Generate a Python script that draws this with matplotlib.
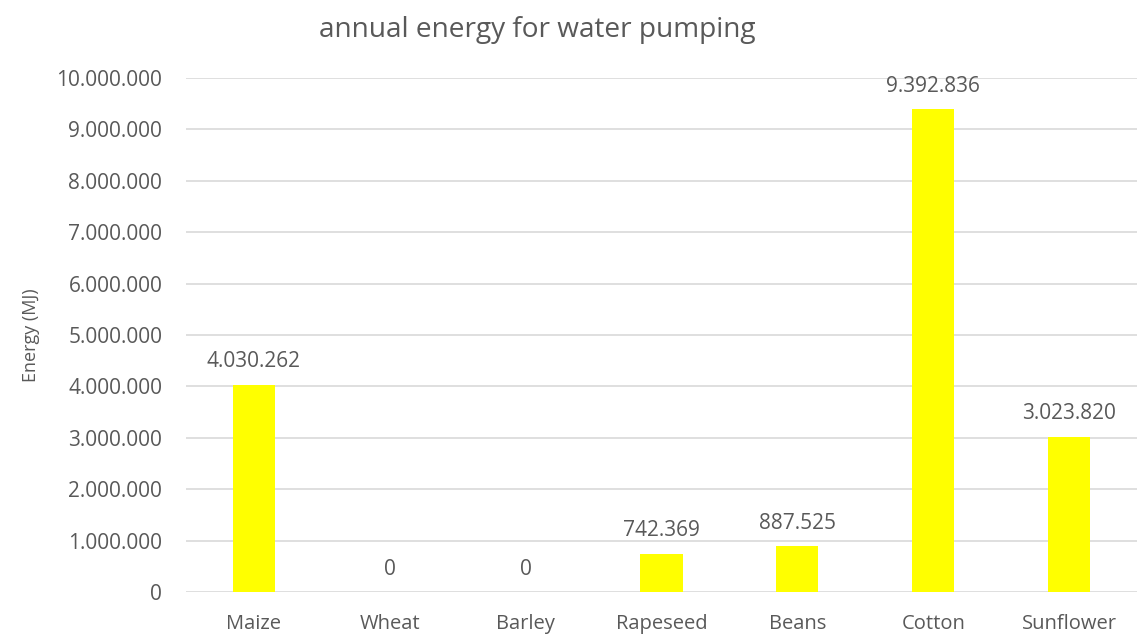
import matplotlib.pyplot as plt
from matplotlib.ticker import FuncFormatter

# data
crops = ["Maize", "Wheat", "Barley", "Rapeseed", "Beans", "Cotton", "Sunflower"]
energy_mj = [4030262, 0, 0, 742369, 887525, 9392836, 3023820]
yticks = list(range(0, 10000001, 1000000))

txt = "#595959"
plt.rcParams["font.family"] = ["Open Sans", "DejaVu Sans"]


def dots(v, pos=None):
    # thousands separated with dots
    return f"{int(v):,}".replace(",", ".")


fig = plt.figure(figsize=(11.43, 6.37), dpi=100)
ax = fig.add_axes([0.1627, 0.0706, 0.8321, 0.807])

x = range(len(crops))
bars = ax.bar(x, energy_mj, width=0.31, color="#FFFF00", zorder=3)

for xi, v in zip(x, energy_mj):
    ax.annotate(dots(v), (xi, v), xytext=(0, 9), textcoords="offset points",
                ha="center", va="bottom", fontsize=15, color=txt)

ax.set_xlim(-0.5, len(crops) - 0.5)
ax.set_ylim(0, 10000000)
ax.set_yticks(yticks)
ax.yaxis.set_major_formatter(FuncFormatter(dots))
ax.set_xticks(list(x))
ax.set_xticklabels(crops)
ax.tick_params(axis="x", length=0, labelsize=14.5, colors=txt, pad=16)
ax.tick_params(axis="y", length=0, labelsize=15, colors=txt, pad=17)
ax.grid(axis="y", color="#d9d9d9", linewidth=1.2, zorder=0)
for s in ax.spines.values():
    s.set_visible(False)

ax.set_ylabel("Energy (MJ)", fontsize=13, color=txt, labelpad=12)
fig.text(0.47, 0.953, "annual energy for water pumping", fontsize=20.2,
         color=txt, ha="center", va="center")

fig.savefig("out.png", dpi=100)
